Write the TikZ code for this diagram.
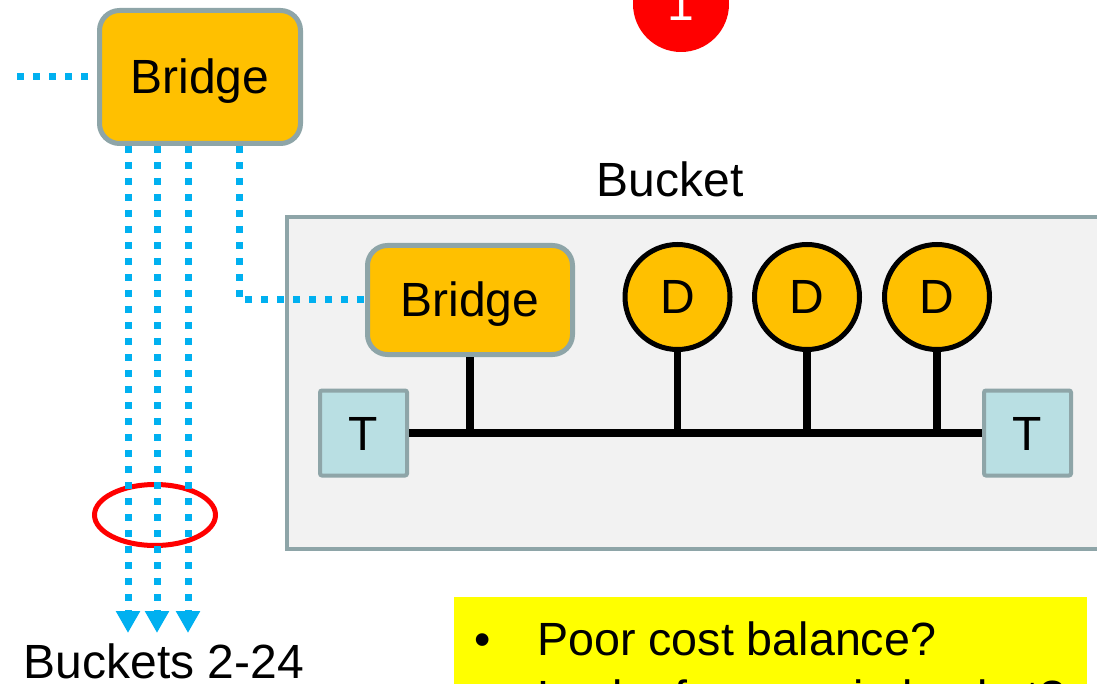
\documentclass[tikz,border=0pt]{standalone}
\usepackage{fontspec}
\setmainfont{Liberation Sans}
\usetikzlibrary{arrows.meta,shapes.geometric}

\definecolor{gold}{HTML}{FFC000}
\definecolor{edgegrey}{HTML}{8EA5A8}
\definecolor{panel}{HTML}{F2F2F2}
\definecolor{termfill}{HTML}{B9DFE3}
\definecolor{linkblue}{HTML}{00B0F0}
\definecolor{notebg}{HTML}{FFFF00}

\tikzset{
  txt/.style={font=\fontsize{48}{57}\selectfont, inner sep=0pt},
  notetxt/.style={font=\fontsize{46.6}{56}\selectfont, inner sep=0pt},
  boxtext/.style={txt, text height=34pt, text depth=0pt},
  bridgebox/.style={boxtext, draw=edgegrey, fill=gold, line width=5pt,
    rounded corners=20pt},
  diskbox/.style={boxtext, circle, draw=black, fill=gold, line width=5pt,
    minimum size=105pt},
  termbox/.style={boxtext, draw=edgegrey, fill=termfill, line width=4pt,
    rounded corners=2pt, minimum width=87pt, minimum height=85pt},
  bus/.style={draw=black, line width=7.5pt},
  link/.style={draw=linkblue, line width=7pt, dash pattern=on 7pt off 9pt},
  linkarrow/.style={link, -{Triangle[width=23pt,length=22pt]}},
}

\begin{document}
\begin{tikzpicture}[x=1pt,y=-1pt]
\useasboundingbox (0,0) rectangle (1097,684);

% step marker
\node[txt, circle, fill=red, text=white, minimum size=96pt, text height=34pt, text depth=0pt]
  (step1) at (681,4) {1};

% bucket panel
\node[draw=edgegrey, fill=panel, line width=4pt, inner sep=0pt,
  minimum width=826pt, minimum height=332pt] (frame) at (700,383) {};
\node[txt, anchor=base] (frametitle) at (670,197) {Bucket};

% devices inside the bucket
\node[bridgebox, minimum width=205pt, minimum height=109pt] (bridge2) at (470,300) {Bridge};
\node[diskbox] (d1) at (677.5,297) {D};
\node[diskbox] (d2) at (807,297) {D};
\node[diskbox] (d3) at (937,297) {D};
\node[termbox] (tl) at (363.5,433) {T};
\node[termbox] (tr) at (1027.5,433) {T};

% shared bus and drops
\draw[bus] (tl.east) -- (tr.west);
\draw[bus] (bridge2.south) -- (bridge2.south |- tl.east);
\draw[bus] (d1.south) -- (d1.south |- tl.east);
\draw[bus] (d2.south) -- (d2.south |- tl.east);
\draw[bus] (d3.south) -- (d3.south |- tl.east);

% top-level bridge
\node[bridgebox, minimum width=201pt, minimum height=133pt] (bridge1) at (200,77) {Bridge};

% grouping ring around the fan-out
\node[ellipse, draw=red, line width=5pt, inner sep=0pt,
  minimum width=121pt, minimum height=61pt] (grp) at (155,515) {};

% links
\coordinate (uplink) at (17,77);
\coordinate (out1) at (128,633);
\coordinate (out2) at (157,633);
\coordinate (out3) at (188,633);
\draw[link] (uplink) -- (bridge1.west);
\draw[linkarrow] (bridge1.south -| out1) -- (out1);
\draw[linkarrow] (bridge1.south -| out2) -- (out2);
\draw[linkarrow] (bridge1.south -| out3) -- (out3);
\draw[link] ([xshift=39pt]bridge1.south) |- (bridge2.west);

\node[txt, anchor=base] (others) at (164,678) {Buckets 2-24};

% question box
\node[fill=notebg, inner sep=0pt, minimum width=633pt, minimum height=130pt,
  anchor=north west] (note) at (454,597) {};
\node[notetxt, anchor=base] (bul1) at (483,655) {•};
\node[notetxt, anchor=base west] (q1) at (537,655) {Poor cost balance?};
\node[notetxt, anchor=base] (bul2) at (483,713) {•};
\node[notetxt, anchor=base west] (q2) at (537,713) {Lack of spares in bucket?};
\end{tikzpicture}
\end{document}
